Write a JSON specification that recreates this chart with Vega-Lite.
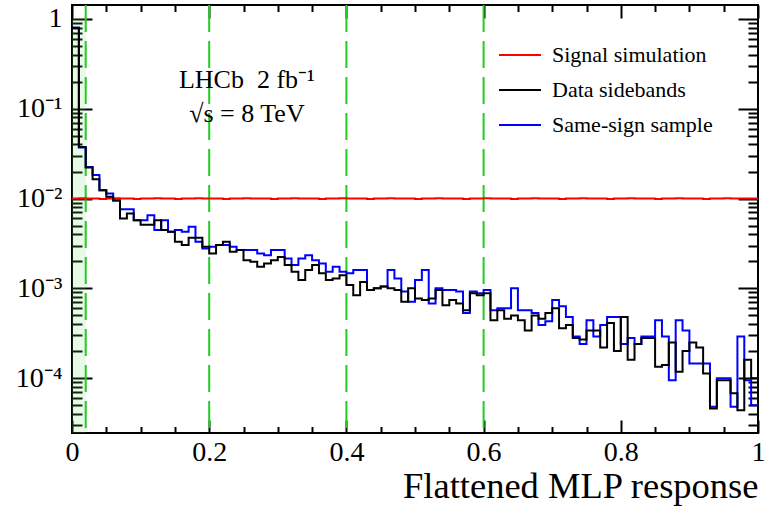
{
  "$schema": "https://vega.github.io/schema/vega-lite/v6.json",
  "width": 686,
  "height": 428,
  "autosize": {"type": "none"},
  "padding": {"left": 72, "top": 5, "right": 8, "bottom": 77},
  "background": "white",
  "config": {
    "font": "Liberation Serif",
    "view": {"stroke": "black", "strokeWidth": 2},
    "axis": {"domain": false, "grid": false, "ticks": true, "tickColor": "black", "tickWidth": 2, "labelColor": "black", "labelFont": "Liberation Serif", "labelFontSize": 28, "titleColor": "black", "titleFont": "Liberation Serif", "labelFlush": false, "labelOverlap": false, "zindex": 1},
    "legend": {"orient": "none", "legendX": 426, "legendY": 39, "padding": 0, "symbolType": "stroke", "symbolSize": 1764, "symbolStrokeWidth": 2, "labelFont": "Liberation Serif", "labelFontSize": 22, "labelColor": "black", "labelOffset": 10, "rowPadding": 13, "clipHeight": 22, "labelLimit": 0, "title": null}
  },
  "datasets": {
    "hist": [
      {"x":0.00,"sig":0.0100,"dat":0.8,"ss":0.8},
      {"x":0.01,"sig":0.0101,"dat":0.0375,"ss":0.037},
      {"x":0.02,"sig":0.0100,"dat":0.0222,"ss":0.0225},
      {"x":0.03,"sig":0.0100,"dat":0.0164,"ss":0.0183},
      {"x":0.04,"sig":0.0099,"dat":0.0124,"ss":0.0124},
      {"x":0.05,"sig":0.0100,"dat":0.0105,"ss":0.0114},
      {"x":0.06,"sig":0.0101,"dat":0.0095,"ss":0.0095},
      {"x":0.07,"sig":0.0100,"dat":0.0060,"ss":0.0076},
      {"x":0.08,"sig":0.0100,"dat":0.0068,"ss":0.0076},
      {"x":0.09,"sig":0.0099,"dat":0.00575,"ss":0.00575},
      {"x":0.10,"sig":0.0100,"dat":0.0051,"ss":0.00575},
      {"x":0.11,"sig":0.0100,"dat":0.0051,"ss":0.0065},
      {"x":0.12,"sig":0.0101,"dat":0.00575,"ss":0.00446},
      {"x":0.13,"sig":0.0100,"dat":0.00446,"ss":0.00575},
      {"x":0.14,"sig":0.0100,"dat":0.00427,"ss":0.00427},
      {"x":0.15,"sig":0.0099,"dat":0.0033,"ss":0.00446},
      {"x":0.16,"sig":0.0100,"dat":0.00303,"ss":0.00427},
      {"x":0.17,"sig":0.0100,"dat":0.00365,"ss":0.00485},
      {"x":0.18,"sig":0.0101,"dat":0.00365,"ss":0.0033},
      {"x":0.19,"sig":0.0100,"dat":0.0029,"ss":0.00278},
      {"x":0.20,"sig":0.0100,"dat":0.00245,"ss":0.0029},
      {"x":0.21,"sig":0.0100,"dat":0.00303,"ss":0.00303},
      {"x":0.22,"sig":0.0099,"dat":0.0033,"ss":0.00303},
      {"x":0.23,"sig":0.0100,"dat":0.00255,"ss":0.0029},
      {"x":0.24,"sig":0.0100,"dat":0.00267,"ss":0.00267},
      {"x":0.25,"sig":0.0101,"dat":0.00206,"ss":0.00267},
      {"x":0.26,"sig":0.0100,"dat":0.00198,"ss":0.00267},
      {"x":0.27,"sig":0.0100,"dat":0.00174,"ss":0.00245},
      {"x":0.28,"sig":0.0100,"dat":0.00189,"ss":0.00234},
      {"x":0.29,"sig":0.0099,"dat":0.00206,"ss":0.00267},
      {"x":0.30,"sig":0.0100,"dat":0.00224,"ss":0.00267},
      {"x":0.31,"sig":0.0100,"dat":0.00182,"ss":0.00215},
      {"x":0.32,"sig":0.0101,"dat":0.00153,"ss":0.00182},
      {"x":0.33,"sig":0.0100,"dat":0.00124,"ss":0.00215},
      {"x":0.34,"sig":0.0100,"dat":0.0016,"ss":0.00234},
      {"x":0.35,"sig":0.0100,"dat":0.00182,"ss":0.00206},
      {"x":0.36,"sig":0.0099,"dat":0.00147,"ss":0.00189},
      {"x":0.37,"sig":0.0100,"dat":0.00124,"ss":0.00153},
      {"x":0.38,"sig":0.0100,"dat":0.00129,"ss":0.00174},
      {"x":0.39,"sig":0.0101,"dat":0.0014,"ss":0.00153},
      {"x":0.40,"sig":0.0100,"dat":0.00109,"ss":0.00147},
      {"x":0.41,"sig":0.0100,"dat":0.00084,"ss":0.0016},
      {"x":0.42,"sig":0.0100,"dat":0.00118,"ss":0.0016},
      {"x":0.43,"sig":0.0099,"dat":0.00096,"ss":0.00096},
      {"x":0.44,"sig":0.0100,"dat":0.0010,"ss":0.0010},
      {"x":0.45,"sig":0.0100,"dat":0.00105,"ss":0.00105},
      {"x":0.46,"sig":0.0101,"dat":0.0010,"ss":0.0016},
      {"x":0.47,"sig":0.0100,"dat":0.00096,"ss":0.00129},
      {"x":0.48,"sig":0.0100,"dat":0.00071,"ss":0.00092},
      {"x":0.49,"sig":0.0100,"dat":0.0010,"ss":0.00071},
      {"x":0.50,"sig":0.0099,"dat":0.00077,"ss":0.00124},
      {"x":0.51,"sig":0.0100,"dat":0.00074,"ss":0.0016},
      {"x":0.52,"sig":0.0100,"dat":0.00077,"ss":0.00068},
      {"x":0.53,"sig":0.0101,"dat":0.00096,"ss":0.0010},
      {"x":0.54,"sig":0.0100,"dat":0.00065,"ss":0.00096},
      {"x":0.55,"sig":0.0100,"dat":0.00074,"ss":0.00096},
      {"x":0.56,"sig":0.0100,"dat":0.00068,"ss":0.00092},
      {"x":0.57,"sig":0.0099,"dat":0.00057,"ss":0.00053},
      {"x":0.58,"sig":0.0100,"dat":0.00088,"ss":0.00092},
      {"x":0.59,"sig":0.0100,"dat":0.00084,"ss":0.00088},
      {"x":0.60,"sig":0.0101,"dat":0.00088,"ss":0.00096},
      {"x":0.61,"sig":0.0100,"dat":0.00044,"ss":0.00057},
      {"x":0.62,"sig":0.0100,"dat":0.00057,"ss":0.0006},
      {"x":0.63,"sig":0.0100,"dat":0.00046,"ss":0.0006},
      {"x":0.64,"sig":0.0099,"dat":0.0005,"ss":0.0010},
      {"x":0.65,"sig":0.0100,"dat":0.00044,"ss":0.00057},
      {"x":0.66,"sig":0.0100,"dat":0.00034,"ss":0.00057},
      {"x":0.67,"sig":0.0101,"dat":0.0005,"ss":0.00053},
      {"x":0.68,"sig":0.0100,"dat":0.00046,"ss":0.00039},
      {"x":0.69,"sig":0.0100,"dat":0.00053,"ss":0.00043},
      {"x":0.70,"sig":0.0100,"dat":0.0006,"ss":0.00074},
      {"x":0.71,"sig":0.0099,"dat":0.00036,"ss":0.00063},
      {"x":0.72,"sig":0.0100,"dat":0.00039,"ss":0.00048},
      {"x":0.73,"sig":0.0100,"dat":0.00028,"ss":0.00029},
      {"x":0.74,"sig":0.0101,"dat":0.00027,"ss":0.00024},
      {"x":0.75,"sig":0.0100,"dat":0.00034,"ss":0.00044},
      {"x":0.76,"sig":0.0100,"dat":0.00034,"ss":0.00029},
      {"x":0.77,"sig":0.0100,"dat":0.00022,"ss":0.00039},
      {"x":0.78,"sig":0.0099,"dat":0.00041,"ss":0.00048},
      {"x":0.79,"sig":0.0100,"dat":0.0002,"ss":0.00048},
      {"x":0.80,"sig":0.0100,"dat":0.00048,"ss":0.00024},
      {"x":0.81,"sig":0.0101,"dat":0.00016,"ss":0.00028},
      {"x":0.82,"sig":0.0100,"dat":0.00024,"ss":0.00024},
      {"x":0.83,"sig":0.0100,"dat":0.00028,"ss":0.00029},
      {"x":0.84,"sig":0.0100,"dat":0.00028,"ss":0.00029},
      {"x":0.85,"sig":0.0099,"dat":0.000134,"ss":0.00044},
      {"x":0.86,"sig":0.0100,"dat":0.00014,"ss":0.00029},
      {"x":0.87,"sig":0.0100,"dat":0.00025,"ss":0.000095},
      {"x":0.88,"sig":0.0101,"dat":0.000118,"ss":0.00044},
      {"x":0.89,"sig":0.0100,"dat":0.0002,"ss":0.00034},
      {"x":0.90,"sig":0.0100,"dat":0.00025,"ss":0.000146},
      {"x":0.91,"sig":0.0100,"dat":0.00022,"ss":0.000146},
      {"x":0.92,"sig":0.0099,"dat":0.000113,"ss":0.000146},
      {"x":0.93,"sig":0.0100,"dat":0.000046,"ss":0.000048},
      {"x":0.94,"sig":0.0100,"dat":0.000095,"ss":0.0001},
      {"x":0.95,"sig":0.0101,"dat":0.000095,"ss":0.0001},
      {"x":0.96,"sig":0.0100,"dat":0.000068,"ss":0.000048},
      {"x":0.97,"sig":0.0100,"dat":0.000044,"ss":0.00029},
      {"x":0.98,"sig":0.0100,"dat":0.00016,"ss":0.000095},
      {"x":0.99,"sig":0.0100,"dat":0.0001,"ss":0.00005},
      {"x":1.00,"sig":0.0100,"dat":0.0001,"ss":0.00005}
    ],
    "cuts": [{"cut":0.02},{"cut":0.2},{"cut":0.4},{"cut":0.6}]
  },
  "resolve": {"axis": {"x": "independent", "y": "independent"}},
  "layer": [
    {
      "data": {"values": [{}]},
      "mark": {"type": "rect", "fill": "#66dd66", "opacity": 0.16},
      "encoding": {
        "x": {"datum": 0, "type": "quantitative", "scale": {"domain": [0, 1], "nice": false, "zero": false},
          "axis": {"orient": "bottom", "values": [0, 0.2, 0.4, 0.6, 0.8, 1], "tickSize": 13, "offset": -13, "labelPadding": 5, "format": ".1~f",
            "title": "Flattened MLP response", "titleFontSize": 36.5, "titleFontWeight": "normal", "titleAlign": "right", "titleAnchor": "end", "titleX": 686, "titleY": 77, "titleBaseline": "alphabetic"}},
        "x2": {"datum": 0.02},
        "y": {"datum": 0.0000245, "type": "quantitative", "scale": {"type": "log", "domain": [0.0000245, 1.43], "nice": false},
          "axis": {"orient": "left", "values": [1, 0.1, 0.01, 0.001, 0.0001], "tickSize": 20, "offset": -20, "labelPadding": 10, "title": null, "labelBaseline": "middle",
            "labelExpr": "datum.value >= 0.5 ? '1' : datum.value >= 0.05 ? '10⁻¹' : datum.value >= 0.005 ? '10⁻²' : datum.value >= 0.0005 ? '10⁻³' : '10⁻⁴'"}},
        "y2": {"datum": 1}
      }
    },
    {
      "data": {"name": "cuts"},
      "mark": {"type": "rule", "color": "#22cc22", "strokeWidth": 2, "strokeDash": [27, 9]},
      "encoding": {
        "x": {"field": "cut", "type": "quantitative", "scale": {"domain": [0, 1], "nice": false, "zero": false}, "axis": null}
      }
    },
    {
      "data": {"name": "hist"},
      "mark": {"type": "line", "interpolate": "step-after", "strokeWidth": 2},
      "encoding": {
        "x": {"field": "x", "type": "quantitative", "scale": {"domain": [0, 1], "nice": false, "zero": false},
          "axis": {"orient": "bottom", "values": [0.05, 0.1, 0.15, 0.25, 0.3, 0.35, 0.45, 0.5, 0.55, 0.65, 0.7, 0.75, 0.85, 0.9, 0.95], "tickSize": 6.5, "offset": -6.5, "labels": false, "title": null}},
        "y": {"field": "sig", "type": "quantitative", "scale": {"type": "log", "domain": [0.0000245, 1.43], "nice": false},
          "axis": {"orient": "left", "values": [0.00003,0.00004,0.00005,0.00006,0.00007,0.00008,0.00009,0.0002,0.0003,0.0004,0.0005,0.0006,0.0007,0.0008,0.0009,0.002,0.003,0.004,0.005,0.006,0.007,0.008,0.009,0.02,0.03,0.04,0.05,0.06,0.07,0.08,0.09,0.2,0.3,0.4,0.5,0.6,0.7,0.8,0.9], "tickSize": 10, "offset": -10, "labels": false, "title": null}},
        "color": {"datum": "Signal simulation", "scale": {"domain": ["Signal simulation", "Data sidebands", "Same-sign sample"], "range": ["#ff0000", "#000000", "#0000ff"]}}
      }
    },
    {
      "data": {"name": "hist"},
      "mark": {"type": "line", "interpolate": "step-after", "strokeWidth": 2},
      "encoding": {
        "x": {"field": "x", "type": "quantitative", "scale": {"domain": [0, 1], "nice": false, "zero": false},
          "axis": {"orient": "top", "values": [0, 0.2, 0.4, 0.6, 0.8, 1], "tickSize": 13, "offset": -13, "labels": false, "title": null}},
        "y": {"field": "ss", "type": "quantitative", "scale": {"type": "log", "domain": [0.0000245, 1.43], "nice": false},
          "axis": {"orient": "right", "values": [1, 0.1, 0.01, 0.001, 0.0001], "tickSize": 20, "offset": -20, "labels": false, "title": null}},
        "color": {"datum": "Same-sign sample", "scale": {"domain": ["Signal simulation", "Data sidebands", "Same-sign sample"], "range": ["#ff0000", "#000000", "#0000ff"]}}
      }
    },
    {
      "data": {"name": "hist"},
      "mark": {"type": "line", "interpolate": "step-after", "strokeWidth": 2},
      "encoding": {
        "x": {"field": "x", "type": "quantitative", "scale": {"domain": [0, 1], "nice": false, "zero": false},
          "axis": {"orient": "top", "values": [0.05, 0.1, 0.15, 0.25, 0.3, 0.35, 0.45, 0.5, 0.55, 0.65, 0.7, 0.75, 0.85, 0.9, 0.95], "tickSize": 6.5, "offset": -6.5, "labels": false, "title": null}},
        "y": {"field": "dat", "type": "quantitative", "scale": {"type": "log", "domain": [0.0000245, 1.43], "nice": false},
          "axis": {"orient": "right", "values": [0.00003,0.00004,0.00005,0.00006,0.00007,0.00008,0.00009,0.0002,0.0003,0.0004,0.0005,0.0006,0.0007,0.0008,0.0009,0.002,0.003,0.004,0.005,0.006,0.007,0.008,0.009,0.02,0.03,0.04,0.05,0.06,0.07,0.08,0.09,0.2,0.3,0.4,0.5,0.6,0.7,0.8,0.9], "tickSize": 10, "offset": -10, "labels": false, "title": null}},
        "color": {"datum": "Data sidebands", "scale": {"domain": ["Signal simulation", "Data sidebands", "Same-sign sample"], "range": ["#ff0000", "#000000", "#0000ff"]}}
      }
    },
    {
      "data": {"values": [{}]},
      "mark": {"type": "text", "text": ["LHCb\u00a0\u00a02\u00a0fb⁻¹", "√s = 8 TeV"], "font": "Liberation Serif", "fontSize": 26, "align": "center", "baseline": "alphabetic", "lineHeight": 34, "color": "black"},
      "encoding": {
        "x": {"datum": 0.255, "type": "quantitative", "scale": {"domain": [0, 1], "nice": false, "zero": false}, "axis": null},
        "y": {"datum": 0.17, "type": "quantitative", "scale": {"type": "log", "domain": [0.0000245, 1.43], "nice": false}, "axis": null}
      }
    }
  ]
}
